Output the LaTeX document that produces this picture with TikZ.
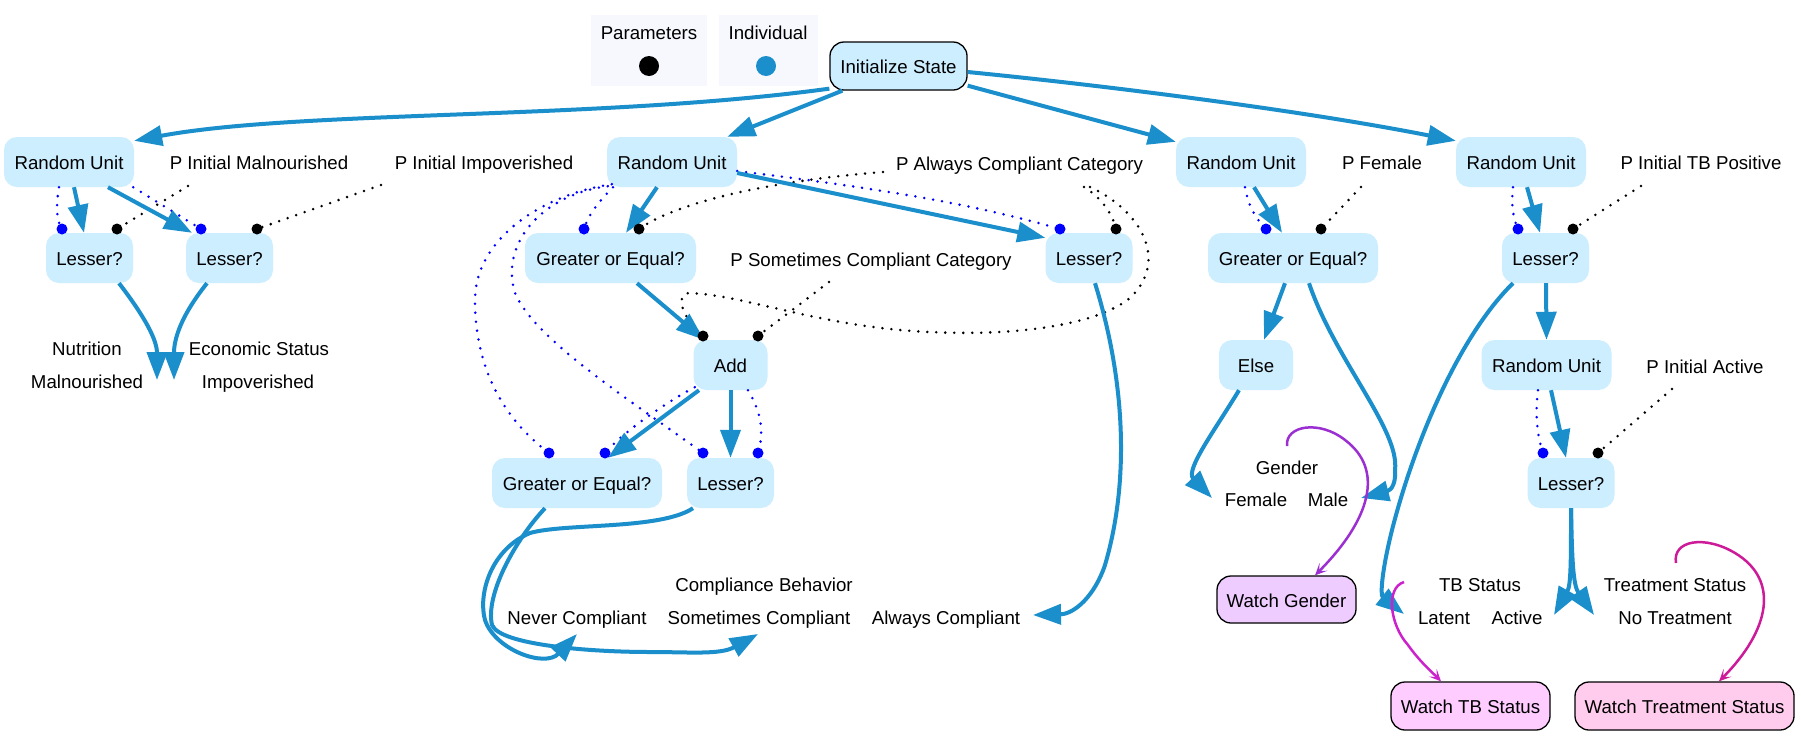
\documentclass[tikz,border=0pt]{standalone}
\usepackage{fontspec}
\setmainfont{Liberation Sans}
\usetikzlibrary{arrows.meta}
\definecolor{nodefill}{HTML}{CCEEFF}
\definecolor{edgeblue}{HTML}{1A8FCC}
\definecolor{legfill}{HTML}{F7F8FE}
\definecolor{wgfill}{HTML}{EFCCFF}
\definecolor{wtbfill}{HTML}{FFCCFF}
\definecolor{wtsfill}{HTML}{FFCCEE}
\definecolor{gloop}{HTML}{9B2FD1}
\definecolor{tloop}{HTML}{CC22CC}
\definecolor{rloop}{HTML}{CC1A99}
\begin{document}
\begin{tikzpicture}[x=1pt,y=1pt,
  every node/.style={font=\fontsize{18.67}{22}\selectfont, inner sep=0pt, text height=15pt, text depth=0pt},
  ubox/.style={rounded corners=13pt, fill=nodefill, minimum height=50pt},
  ibox/.style={rounded corners=14pt, fill=nodefill, draw=black, line width=1.3pt, minimum height=48pt, minimum width=137pt},
  wbox/.style={rounded corners=14pt, draw=black, line width=1.3pt, minimum height=48pt},
  portb/.style={circle, fill=blue, minimum size=11pt, text height=0pt},
  portk/.style={circle, fill=black, minimum size=11pt, text height=0pt},
  flow/.style={draw=edgeblue, line width=4pt, -{Triangle[length=28pt,width=20pt]}},
  bdot/.style={draw=blue, line width=2.8pt, dash pattern=on 0pt off 9pt, line cap=round},
  kdot/.style={draw=black, line width=2.8pt, dash pattern=on 0pt off 9pt, line cap=round},
  wloop/.style={line width=2.5pt, -{Stealth[length=12pt,width=11pt,inset=6pt]}},
]
\fill[white] (0,0) rectangle (1801,-737);
\useasboundingbox (0,0) rectangle (1801,-737);

% legend
\node[fill=legfill, minimum width=116pt, minimum height=71pt, text height=0pt] (legp) at (649,-50.5) {};
\node (legpt) at (649,-32) {Parameters};
\node[circle, fill=black, minimum size=20pt, text height=0pt] (legpd) at (649,-66) {};
\node[fill=legfill, minimum width=99pt, minimum height=71pt, text height=0pt] (legi) at (768.5,-50.5) {};
\node (legit) at (768,-32) {Individual};
\node[circle, fill=edgeblue, minimum size=20pt, text height=0pt] (legid) at (766,-66) {};

% boxes
\node[ibox] (init) at (898.5,-66) {Initialize State};
\node[ubox, minimum width=130pt] (ru1) at (69,-162) {Random Unit};
\node[ubox, minimum width=87pt] (l1) at (89.5,-258) {Lesser?};
\node[ubox, minimum width=87pt] (l2) at (229.5,-258) {Lesser?};
\node[ubox, minimum width=130pt] (ru2) at (672,-162) {Random Unit};
\node[ubox, minimum width=171pt] (ge2) at (610.5,-258) {Greater or Equal?};
\node[ubox, minimum width=87pt] (l3) at (1089,-258) {Lesser?};
\node[ubox, minimum width=74pt] (add) at (730.5,-365) {Add};
\node[ubox, minimum width=170pt] (ge2b) at (577,-483) {Greater or Equal?};
\node[ubox, minimum width=87pt] (l3b) at (730.5,-483) {Lesser?};
\node[ubox, minimum width=130pt] (ru3) at (1241,-162) {Random Unit};
\node[ubox, minimum width=170pt] (ge3) at (1293,-258) {Greater or Equal?};
\node[ubox, minimum width=74pt] (else) at (1256,-365) {Else};
\node[ubox, minimum width=130pt] (ru4) at (1521,-162) {Random Unit};
\node[ubox, minimum width=87pt] (l4) at (1545.5,-258) {Lesser?};
\node[ubox, minimum width=130pt] (ru5) at (1546.5,-365) {Random Unit};
\node[ubox, minimum width=87pt] (l5) at (1571,-483) {Lesser?};
\node[wbox, fill=wgfill, minimum width=139pt, minimum height=47pt] (wg) at (1286.5,-599.5) {Watch Gender};
\node[wbox, fill=wtbfill, minimum width=159pt] (wtb) at (1470.5,-706) {Watch TB Status};
\node[wbox, fill=wtsfill, minimum width=219pt] (wts) at (1684.5,-706) {Watch Treatment Status};

% labels
\node (pim) at (259,-162) {P Initial Malnourished};
\node (pii) at (484,-162) {P Initial Impoverished};
\node (pac) at (1019.5,-163) {P Always Compliant Category};
\node (psc) at (871,-259) {P Sometimes Compliant Category};
\node (pf) at (1382,-162) {P Female};
\node (ptb) at (1701,-162) {P Initial TB Positive};
\node (pia) at (1705,-366) {P Initial Active};
\node (nut) at (87,-348) {Nutrition};
\node (mal) at (87,-381) {Malnourished};
\node (eco) at (259,-348) {Economic Status};
\node (imp) at (258,-381) {Impoverished};
\node (cb) at (764,-584) {Compliance Behavior};
\node (nev) at (577,-617) {Never Compliant};
\node (som) at (759,-617) {Sometimes Compliant};
\node (alw) at (946,-617) {Always Compliant};
\node (gen) at (1287,-467) {Gender};
\node (fem) at (1256,-499) {Female};
\node (male) at (1328,-499) {Male};
\node (tbs) at (1480,-584) {TB Status};
\node (lat) at (1444,-617) {Latent};
\node (act) at (1517,-617) {Active};
\node (trs) at (1675,-584) {Treatment Status};
\node (notr) at (1675,-617) {No Treatment};

% arrow targets at value labels
\coordinate (malin) at (157,-380);
\coordinate (impin) at (174,-380);
\coordinate (nevin) at (577,-634);
\coordinate (somin) at (758,-634);
\coordinate (alwin) at (1033,-615);
\coordinate (femin) at (1212,-498);
\coordinate (malein) at (1361,-498);
\coordinate (latin) at (1404,-614);
\coordinate (actin) at (1554,-615);
\coordinate (notin) at (1594,-615);

% ports
\coordinate (p1b) at (62,-229);   \coordinate (p1k) at (117,-229);
\coordinate (p2b) at (201,-229);  \coordinate (p2k) at (257,-229);
\coordinate (p3b) at (584,-229);  \coordinate (p3k) at (639,-229);
\coordinate (p4b) at (1060,-229); \coordinate (p4k) at (1116,-229);
\coordinate (p5k1) at (703,-336); \coordinate (p5k2) at (758,-336);
\coordinate (p6b1) at (549,-453); \coordinate (p6b2) at (605,-453);
\coordinate (p7b1) at (703,-453); \coordinate (p7b2) at (758,-453);
\coordinate (p8b) at (1266,-229); \coordinate (p8k) at (1321,-229);
\coordinate (p9b) at (1518,-229); \coordinate (p9k) at (1573,-229);
\coordinate (p10b) at (1543,-453); \coordinate (p10k) at (1598,-453);

% dotted inputs
\draw[bdot] ([xshift=-10pt]ru1.south) .. controls (56,-205) and (56,-220) .. (p1b);
\draw[bdot] ([xshift=-1pt]ru1.south east) -- (p2b);
\draw[kdot] ([shift={(-71pt,-24pt)}]pim.center) -- (p1k);
\draw[kdot] ([shift={(-103pt,-23pt)}]pii.center) -- (p2k);
\draw[bdot] ([xshift=-59pt]ru2.south) .. controls (600,-200) and (588,-215) .. (p3b);
\draw[bdot] ([shift={(5pt,3pt)}]ru2.south west) .. controls (540,-195) and (475,-240) .. (475,-300) .. controls (475,-370) and (505,-420) .. (p6b1);
\draw[bdot] ([shift={(1pt,1pt)}]ru2.south west) .. controls (540,-195) and (500,-245) .. (515,-293) .. controls (535,-340) and (630,-400) .. (p7b1);
\draw[bdot] ([yshift=-9pt]ru2.east) .. controls (850,-185) and (960,-200) .. (p4b);
\draw[kdot] ([shift={(-136.5pt,-9pt)}]pac.center) .. controls (780,-180) and (680,-200) .. (p3k);
\draw[kdot] ([shift={(64.5pt,-24pt)}]pac.center) .. controls (1100,-197) and (1112,-212) .. (p4k);
\draw[kdot] ([shift={(70.5pt,-24pt)}]pac.center) .. controls (1140,-210) and (1170,-260) .. (1130,-298) .. controls (1090,-330) and (990,-338) .. (900,-330) .. controls (810,-322) and (740,-295) .. (690,-293) .. controls (675,-293) and (680,-315) .. (p5k1);
\draw[kdot] ([shift={(-42pt,-23pt)}]psc.center) -- (p5k2);
\draw[bdot] ([shift={(1.5pt,3pt)}]add.south west) .. controls (670,-400) and (625,-430) .. (p6b2);
\draw[bdot] ([xshift=17.5pt]add.south) .. controls (760,-410) and (765,-430) .. (p7b2);
\draw[bdot] ([xshift=4pt]ru3.south) .. controls (1248,-205) and (1255,-218) .. (p8b);
\draw[kdot] ([shift={(-21pt,-25pt)}]pf.center) -- (p8k);
\draw[bdot] ([xshift=-8pt]ru4.south) .. controls (1511,-205) and (1513,-218) .. (p9b);
\draw[kdot] ([shift={(-60pt,-24pt)}]ptb.center) -- (p9k);
\draw[bdot] ([xshift=-8.5pt]ru5.south) .. controls (1535,-415) and (1537,-435) .. (p10b);
\draw[kdot] ([shift={(-33pt,-23pt)}]pia.center) -- (p10k);

% solid flows
\draw[flow] ([yshift=2pt]init.south west) .. controls (600,-120) and (300,-110) .. ([yshift=-4pt]ru1.north east);
\draw[flow] ([xshift=13pt]init.south west) -- ([xshift=-10pt]ru2.north east);
\draw[flow] ([yshift=5pt]init.south east) -- ([yshift=-5pt]ru3.north west);
\draw[flow] ([yshift=-6pt]init.east) .. controls (1100,-85) and (1300,-110) .. ([yshift=-4pt]ru4.north west);
\draw[flow] ([xshift=5pt]ru1.south) -- ([xshift=-5.5pt]l1.north);
\draw[flow] ([xshift=39pt]ru1.south) -- ([xshift=-37.5pt]l2.north);
\draw[flow] ([xshift=29.5pt]l1.south) .. controls (145,-317) and (157,-340) .. (malin);
\draw[flow] ([xshift=-22.5pt]l2.south) .. controls (180,-317) and (174,-340) .. (impin);
\draw[flow] ([xshift=-15pt]ru2.south) -- ([xshift=15.5pt]ge2.north);
\draw[flow] ([xshift=26.5pt]ge2.south) -- ([xshift=-26.5pt]add.north);
\draw[flow] ([yshift=-11pt]ru2.east) -- ([yshift=-5pt]l3.north west);
\draw[flow] ([xshift=-31.5pt]add.south) -- ([xshift=31pt]ge2b.north);
\draw[flow] (add.south) -- (l3b.north);
\draw[flow] ([xshift=6pt]l3.south) .. controls (1125,-380) and (1130,-480) .. (1105,-565) .. controls (1095,-595) and (1075,-614) .. (alwin);
\draw[flow] ([xshift=-32pt]ge2b.south) .. controls (515,-540) and (485,-595) .. (492,-625) .. controls (500,-645) and (590,-652) .. (650,-652) .. controls (690,-652) and (720,-655) .. (somin);
\draw[flow] ([xshift=-37.5pt]l3b.south) .. controls (660,-530) and (565,-523) .. (530,-533) .. controls (490,-550) and (478,-595) .. (485,-620) .. controls (495,-650) and (545,-668) .. (nevin);
\draw[flow] ([xshift=-8pt]ge3.south) -- ([xshift=8pt]else.north);
\draw[flow] ([xshift=16pt]ge3.south) .. controls (1335,-360) and (1400,-430) .. (1395,-470) .. controls (1396,-482) and (1392,-490) .. (malein);
\draw[flow] ([xshift=-17pt]else.south) .. controls (1215,-430) and (1185,-470) .. (femin);
\draw[flow] ([xshift=13pt]ru3.south) -- ([xshift=-11pt]ge3.north);
\draw[flow] ([xshift=6pt]ru4.south) -- ([xshift=-5.5pt]l4.north);
\draw[flow] ([xshift=0.5pt]l4.south) -- (ru5.north);
\draw[flow] ([xshift=-32.5pt]l4.south) .. controls (1460,-335) and (1415,-440) .. (1392,-530) .. controls (1382,-570) and (1380,-595) .. (latin);
\draw[flow] ([xshift=4.5pt]ru5.south) -- ([xshift=-5pt]l5.north);
\draw[flow] (l5.south) .. controls (1571,-560) and (1571,-585) .. (actin);
\draw[flow] (l5.south) .. controls (1572,-560) and (1573,-585) .. (notin);

% watch loops
\draw[wloop, draw=gloop] ([yshift=21pt]gen.center) .. controls (1285,-425) and (1320,-420) .. (1345,-440) .. controls (1385,-470) and (1370,-520) .. ([xshift=28.5pt]wg.north);
\draw[wloop, draw=tloop] ([shift={(-76pt,2pt)}]tbs.center) .. controls (1385,-588) and (1390,-625) .. (1408,-645) .. controls (1420,-662) and (1432,-672) .. ([xshift=-29.5pt]wtb.north);
\draw[wloop, draw=rloop] ([shift={(1pt,21pt)}]trs.center) .. controls (1672,-540) and (1705,-535) .. (1735,-553) .. controls (1780,-580) and (1770,-630) .. ([xshift=34.5pt]wts.north);

% port dots
\foreach \p in {p1b,p2b,p3b,p4b,p6b1,p6b2,p7b1,p7b2,p8b,p9b,p10b} {\node[portb] at (\p) {};}
\foreach \p in {p1k,p2k,p3k,p4k,p5k1,p5k2,p8k,p9k,p10k} {\node[portk] at (\p) {};}
\end{tikzpicture}
\end{document}
